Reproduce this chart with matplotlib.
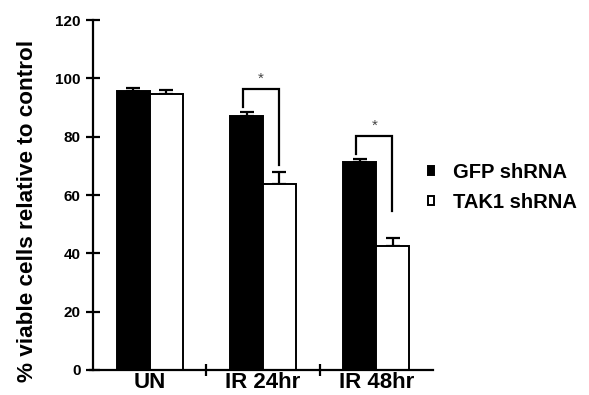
import matplotlib
matplotlib.use("Agg")
import matplotlib.pyplot as plt
import numpy as np

# Cell viability after irradiation, GFP vs TAK1 knockdown
categories = ["UN", "IR 24hr", "IR 48hr"]
series_names = ["GFP shRNA", "TAK1 shRNA"]
gfp_mean = [95.5, 87.2, 71.2]
gfp_err = [1.2, 1.1, 1.1]
tak1_mean = [94.7, 63.8, 42.6]
tak1_err = [1.3, 4.0, 2.8]
y_ticks = [0, 20, 40, 60, 80, 100, 120]

# significance brackets: (category index, top, left-leg bottom, right-leg bottom)
bracket_cat = [1, 2]
bracket_top = [96.2, 80.2]
bracket_left_end = [90.3, 74.0]
bracket_right_end = [70.3, 54.6]
bracket_mark = ["*", "*"]

plt.rcParams["font.family"] = ["Liberation Sans", "DejaVu Sans"]
plt.rcParams["font.weight"] = "bold"

fig = plt.figure(figsize=(5.89, 3.95), dpi=100)
ax = fig.add_axes([0.158, 0.0633, 0.577, 0.886])

x = np.arange(len(categories)) + 0.5
w = 0.29
lw = 1.4

ax.bar(x - w / 2, gfp_mean, w, color="black", edgecolor="black", linewidth=lw,
       label=series_names[0], zorder=2)
ax.bar(x + w / 2, tak1_mean, w, color="white", edgecolor="black", linewidth=lw,
       label=series_names[1], zorder=2)
ax.errorbar(x - w / 2, gfp_mean, yerr=[np.zeros(3), gfp_err], fmt="none",
            ecolor="black", elinewidth=1.6, capsize=5, capthick=1.6, zorder=1)
ax.errorbar(x + w / 2, tak1_mean, yerr=[np.zeros(3), tak1_err], fmt="none",
            ecolor="black", elinewidth=1.6, capsize=5, capthick=1.6, zorder=1)

for ci, top, lb, rb, mk in zip(bracket_cat, bracket_top, bracket_left_end,
                               bracket_right_end, bracket_mark):
    xl = x[ci] - w / 2 - 0.03
    xr = x[ci] + w / 2 - 0.005
    ax.plot([xl, xl, xr, xr], [lb, top, top, rb], color="black", lw=1.6,
            solid_joinstyle="miter", zorder=3)
    ax.text((xl + xr) / 2, top + 1.2, mk, ha="center", va="bottom",
            fontsize=11, fontweight="normal", color="#444444")

ax.set_xlim(0, 3)
ax.set_ylim(0, 120)
ax.set_yticks(y_ticks)
ax.set_yticklabels([str(t) for t in y_ticks], fontsize=11, fontweight="bold")
ax.set_xticks(x)
ax.set_xticklabels(categories, fontsize=16, fontweight="bold")
ax.set_xticks([1, 2], minor=True)

for side in ["top", "right"]:
    ax.spines[side].set_visible(False)
for side in ["left", "bottom"]:
    ax.spines[side].set_linewidth(1.6)
ax.spines["bottom"].set_bounds(-0.03, 3)

ax.tick_params(axis="y", direction="inout", length=10, width=1.6, pad=4)
ax.tick_params(axis="x", which="major", length=0, pad=1.5)
ax.tick_params(axis="x", which="minor", direction="inout", length=9, width=1.6)

ax.set_ylabel("% viable cells relative to control", fontsize=16.2, fontweight="bold")
ax.yaxis.set_label_coords(-0.163, 0.455)

leg = ax.legend(loc="upper left", bbox_to_anchor=(428 / 589, 1 - 163 / 395),
                bbox_transform=fig.transFigure, frameon=False, fontsize=14.5,
                handlelength=0.3, handleheight=0.3, handletextpad=0.95,
                labelspacing=0.55, borderaxespad=0, borderpad=0)
for t in leg.get_texts():
    t.set_fontweight("bold")

fig.savefig("out.png", dpi=100)
